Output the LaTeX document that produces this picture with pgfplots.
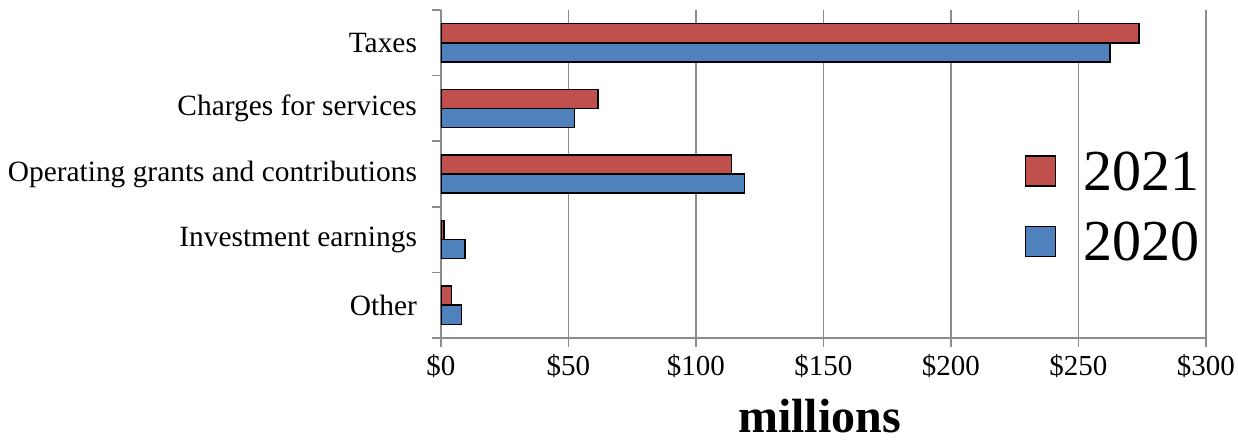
\documentclass[border=0pt]{standalone}
\usepackage{pgfplots}
\pgfplotsset{compat=1.18}
\usepackage{fontspec}
\setmainfont{Liberation Serif}
\definecolor{r21}{HTML}{C0504D}
\definecolor{b20}{HTML}{4F81BD}
\definecolor{gr}{RGB}{140,140,140}
\pgfplotsset{sqleg/.style={legend image code/.code={\draw[##1, line width=0.7pt, draw=black] (0pt,-7.5pt) rectangle (15pt,7.5pt);}}}
\begin{document}
\begin{tikzpicture}
\useasboundingbox (-220.5pt,-52pt) rectangle (398.5pt,169pt);
\begin{axis}[
  at={(0,0)}, anchor=south west,
  scale only axis, width=382.5pt, height=164pt,
  xbar, bar width=0.29,
  xmin=0, xmax=300, ymin=-0.5, ymax=4.5, y dir=reverse,
  axis x line*=bottom, axis y line*=left,
  axis line style={draw=gr, line width=0.8pt},
  tick align=outside, major tick length=4.5pt,
  tick style={draw=gr, line width=0.8pt},
  xtick={0,50,...,300},
  xticklabels={\$0,\$50,\$100,\$150,\$200,\$250,\$300},
  xmajorgrids, major grid style={draw=gr, line width=0.8pt},
  ytick={-0.5,0.5,1.5,2.5,3.5,4.5},
  yticklabels={Taxes,Charges for services,Operating grants and contributions,Investment earnings,Other,{}},
  yticklabel style={yshift=-16.4pt, xshift=-4pt, font=\fontsize{14.7}{17}\selectfont},
  xticklabel style={font=\fontsize{14.5}{17}\selectfont},
  xlabel={\textbf{millions}},
  xlabel style={at={(axis description cs:0.495,0)}, anchor=center, yshift=-39pt, font=\fontsize{24}{28}\selectfont},
  legend style={at={(0.755,0.402)}, anchor=west, draw=none, fill=none,
    font=\fontsize{29}{34}\selectfont, row sep=16pt,
    nodes={inner sep=0pt, text depth=0pt},
    /tikz/every odd column/.append style={column sep=13.5pt}},
  legend cell align=left,
]
\addplot[sqleg, fill=r21, draw=black, line width=0.7pt, bar shift=-0.145]
  coordinates {(273.8,0) (61.5,1) (114.0,2) (1.2,3) (4.2,4)};
\addlegendentry{2021}
\addplot[sqleg, fill=b20, draw=black, line width=0.7pt, bar shift=0.145]
  coordinates {(262.4,0) (52.4,1) (119.0,2) (9.4,3) (8.1,4)};
\addlegendentry{2020}
\end{axis}
\end{tikzpicture}
\end{document}
